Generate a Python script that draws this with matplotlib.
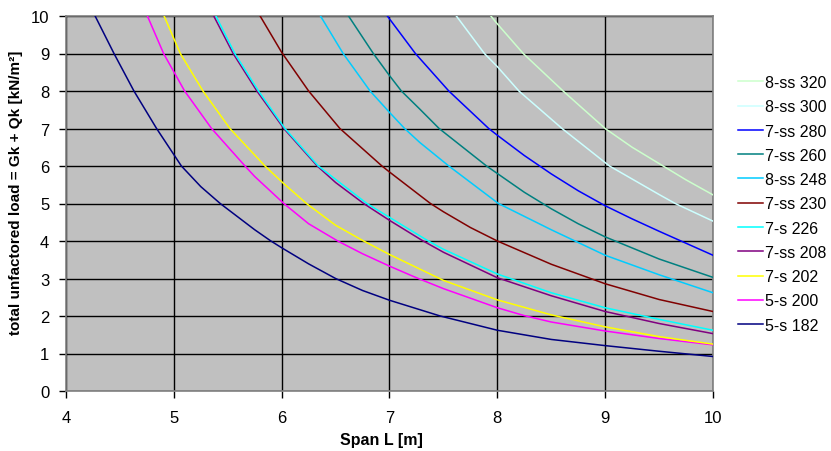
import matplotlib
matplotlib.use("Agg")
import matplotlib.pyplot as plt

plt.rcParams['font.family'] = ['Liberation Sans', 'DejaVu Sans']

# span L [m] and total unfactored load [kN/m2], per slab type
labels = ["5-s 182", "5-s 200", "7-s 202", "7-ss 208", "7-s 226", "7-ss 230",
          "8-ss 248", "7-ss 260", "7-ss 280", "8-ss 300", "8-ss 320"]
colors = ["#000080", "#FF00FF", "#FFFF00", "#800080", "#00FFFF", "#800000",
          "#00CCFF", "#008080", "#0000FF", "#CCFFFF", "#CCFFCC"]

span_182 = [4.27, 4.445, 4.63, 4.84, 5.07, 5.25, 5.43, 5.75, 5.9, 6.0, 6.25, 6.5, 6.75,
            7.0, 7.47, 8.0, 8.5, 9.0, 9.5, 10.0]
load_182 = [10, 9, 8, 7, 6, 5.45, 5, 4.3, 4, 3.82, 3.39, 3, 2.68,
            2.42, 2, 1.62, 1.375, 1.21, 1.06, 0.92]

span_200 = [4.755, 4.905, 5.1, 5.35, 5.66, 5.75, 6.02, 6.25, 6.52, 6.75, 7.0, 7.25,
            7.5, 8.0, 8.25, 8.5, 9.0, 9.5, 10.0]
load_200 = [10, 9, 8, 7, 6, 5.72, 5, 4.46, 4, 3.66, 3.33, 3.02,
            2.73, 2.22, 2.01, 1.84, 1.6, 1.40, 1.23]

span_202 = [4.91, 5.06, 5.27, 5.52, 5.845, 6.0, 6.23, 6.5, 6.76, 7.0, 7.5,
            8.0, 8.5, 9.0, 9.5, 10.0]
load_202 = [10, 9, 8, 7, 6, 5.58, 5, 4.42, 4, 3.64, 2.95,
            2.43, 2.03, 1.71, 1.45, 1.25]

span_208 = [5.37, 5.55, 5.77, 6.02, 6.33, 6.5, 6.76, 7.0, 7.3, 7.5, 8.0, 8.5, 9.0, 9.5, 10.0]
load_208 = [10, 9, 8, 7, 6, 5.56, 5, 4.55, 4.02, 3.7, 3.02, 2.54, 2.12, 1.80, 1.53]

span_226 = [5.39, 5.565, 5.785, 6.03, 6.34, 6.79, 7.0, 7.36, 7.5, 8.0, 8.5, 9.0, 9.5, 10.0]
load_226 = [10, 9, 8, 7, 6, 5, 4.63, 4, 3.78, 3.12, 2.62, 2.22, 1.91, 1.62]

span_230 = [5.80, 6.0, 6.25, 6.54, 6.93, 7.0, 7.28, 7.38, 7.5, 7.75, 8.0, 8.5, 9.0, 9.5, 10.0]
load_230 = [10, 9.03, 8, 7, 6, 5.84, 5.22, 5, 4.78, 4.36, 4.0, 3.38, 2.86, 2.44, 2.12]

span_248 = [6.36, 6.57, 6.82, 7.0, 7.14, 7.28, 7.55, 8.01, 8.5, 9.0, 9.5, 10.0]
load_248 = [10, 9, 8, 7.43, 7, 6.63, 6, 5, 4.3, 3.62, 3.1, 2.62]

span_260 = [6.62, 6.85, 7.0, 7.11, 7.28, 7.46, 7.9, 8.0, 8.25, 8.5, 8.75, 9.0, 9.5, 10.0]
load_260 = [10, 9, 8.41, 8, 7.52, 7, 6, 5.8, 5.3, 4.86, 4.46, 4.11, 3.52, 3.03]

span_280 = [6.98, 7.24, 7.55, 7.92, 8.0, 8.25, 8.5, 8.75, 9.0, 9.25, 9.5, 10.0]
load_280 = [10, 9, 8, 7, 6.82, 6.28, 5.79, 5.34, 4.94, 4.59, 4.26, 3.62]

span_300 = [7.62, 7.88, 8.0, 8.2, 8.6, 9.04, 9.5, 9.65, 10.0]
load_300 = [10, 9, 8.65, 8, 7, 6, 5.24, 5, 4.53]

span_320 = [7.94, 8.0, 8.24, 8.61, 8.75, 9.0, 9.25, 9.75, 10.0]
load_320 = [10, 9.79, 9, 8, 7.64, 7, 6.5, 5.63, 5.23]

spans = [span_182, span_200, span_202, span_208, span_226, span_230,
         span_248, span_260, span_280, span_300, span_320]
loads = [load_182, load_200, load_202, load_208, load_226, load_230,
         load_248, load_260, load_280, load_300, load_320]

fig = plt.figure(figsize=(8.31, 4.52), dpi=100)
ax = fig.add_axes([66 / 831, 60 / 452, 647 / 831, 375 / 452])
ax.set_facecolor("#C0C0C0")

for L, w, c, lab in zip(spans, loads, colors, labels):
    ax.plot(L, w, color=c, lw=1.1, label=lab, zorder=3)

ax.set_xlim(4, 10)
ax.set_ylim(0, 10)
ax.set_xticks(range(4, 11))
ax.set_yticks(range(0, 11))
ax.grid(True, color="black", lw=1.0, zorder=1)
ax.set_axisbelow(True)
for s in ax.spines.values():
    s.set_color("#808080")
    s.set_linewidth(1.2)
ax.tick_params(direction="out", length=5, width=1, color="black",
               labelsize=12, pad=7)
ax.tick_params(axis="x", pad=9)

ax.set_xlabel("Span L [m]", fontsize=11.5, fontweight="bold")
ax.xaxis.set_label_coords(0.487, -0.11)
ax.set_ylabel("total unfactored load = Gk + Qk [kN/m²]", fontsize=11,
              fontweight="bold")
ax.yaxis.set_label_coords(-0.066, 0.532)

h, l = ax.get_legend_handles_labels()
fig.legend(h[::-1], l[::-1], loc="upper left", bbox_to_anchor=(738 / 831, 1 - 76 / 452),
           frameon=False, fontsize=11.5, handlelength=1.55, handletextpad=0.15,
           labelspacing=0.58, borderpad=0, borderaxespad=0)

fig.savefig("out.png", dpi=100)
